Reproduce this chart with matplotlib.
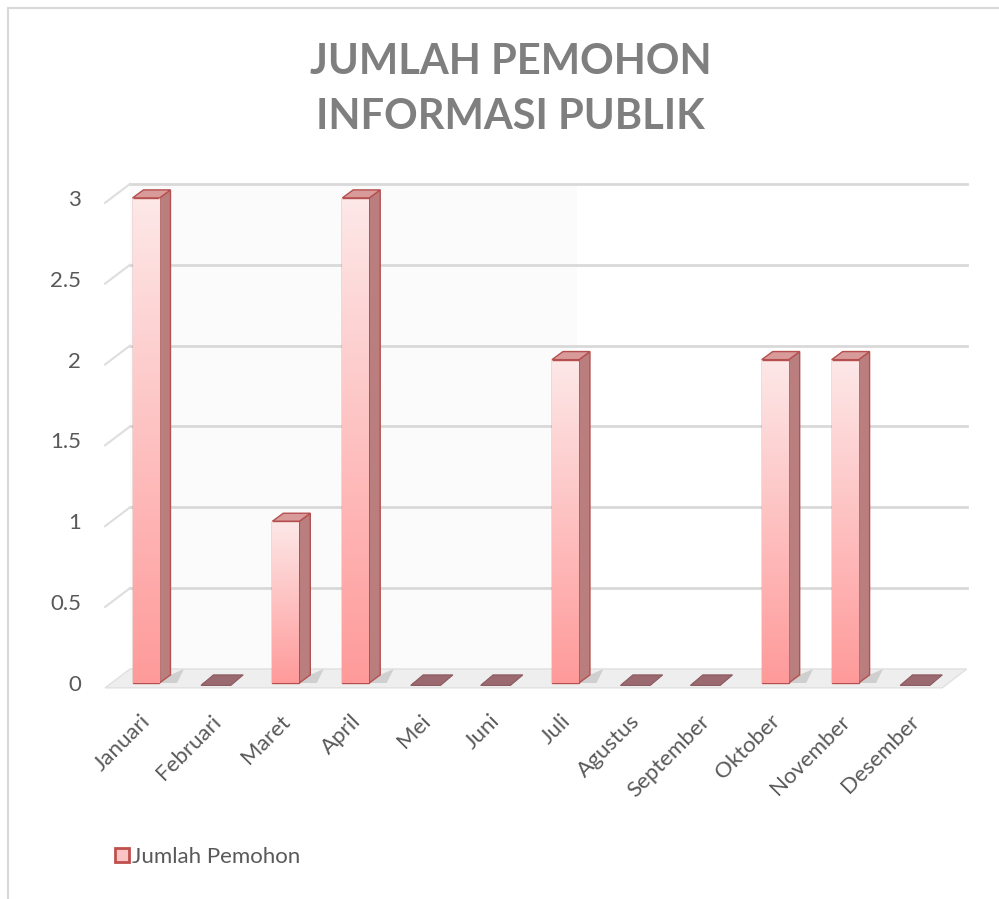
import numpy as np
import matplotlib.pyplot as plt
import matplotlib.transforms as mtransforms
from matplotlib.patches import Polygon, Patch
from matplotlib.lines import Line2D
from matplotlib.colors import LinearSegmentedColormap

bulan = ["Januari", "Februari", "Maret", "April", "Mei", "Juni", "Juli",
         "Agustus", "September", "Oktober", "November", "Desember"]
jumlah = [3, 0, 1, 3, 0, 0, 2, 0, 0, 2, 2, 0]
yticks = [0, 0.5, 1, 1.5, 2, 2.5, 3]
ytick_labels = ["0", "0.5", "1", "1.5", "2", "2.5", "3"]

plt.rcParams['font.family'] = ['Lato', 'DejaVu Sans']

fig = plt.figure(figsize=(9.99, 8.99), dpi=100)
ax = fig.add_axes([0.1001, 0.2214, 0.8759, 0.5895])
for s in ax.spines.values():
    s.set_visible(False)

# 3d look: wall depth and bar depth in data units
wx0, wx1, wx_front = -0.229, 11.74, -0.586
wdy = 0.0866
w = 0.386
dx, dy = 0.157, 0.05

# back wall shading + gridlines
ax.fill_between([wx0, 6.17], wdy, 3 + wdy, color='#fbfbfb', zorder=0, lw=0)
for v in yticks[1:]:
    ax.plot([wx0, wx1], [v + wdy] * 2, color='#d9d9d9', lw=2, zorder=1)
    ax.plot([wx_front, wx0], [v - 0.03, v + wdy], color='#dedede', lw=1.5, zorder=1)

# floor
floor = Polygon([(wx_front, -0.03), (wx1 - 0.35, -0.03), (wx1, wdy), (wx0, wdy)],
                closed=True, facecolor='#eeeeee', edgecolor='#e0e0e0', lw=1, zorder=1)
ax.add_patch(floor)

cmap = LinearSegmentedColormap.from_list('bar', ['#ff9a9a', '#fde8e8'])
grad = np.linspace(0, 1, 256).reshape(-1, 1)
edge = '#b5504f'

bars = ax.bar(range(len(jumlah)), jumlah, width=w, color='#fbb', edgecolor=edge,
              lw=1, zorder=4)
for i, (v, bar) in enumerate(zip(jumlah, bars)):
    x0 = i - w / 2
    if v > 0:
        im = ax.imshow(grad, extent=[x0, x0 + w, 0, v], origin='lower', cmap=cmap,
                       aspect='auto', zorder=4.5, interpolation='bilinear')
        im.set_clip_path(bar)
        ax.add_patch(Polygon([(x0, v), (x0 + w, v)], closed=False, fill=False,
                             edgecolor=edge, lw=1, zorder=5))
        ax.add_patch(Polygon([(x0 + w, 0), (x0 + w + dx, dy), (x0 + w + dx, v + dy),
                              (x0 + w, v)], facecolor='#bb7e7e', edgecolor=edge,
                             lw=1, zorder=4))
        ax.add_patch(Polygon([(x0, v), (x0 + dx, v + dy), (x0 + w + dx, v + dy),
                              (x0 + w, v)], facecolor='#d99a9a', edgecolor=edge,
                             lw=1, zorder=4))
        ax.add_patch(Polygon([(x0 + w, 0), (x0 + w + 0.25, 0), (x0 + w + 0.35, wdy),
                              (x0 + w + dx, dy)], facecolor='#cfcfcf', lw=0, zorder=2))
    else:
        ax.add_patch(Polygon([(x0 - 0.02, -0.015), (x0 + w + 0.02, -0.015),
                              (x0 + w + dx + 0.04, dy), (x0 + dx, dy)],
                             facecolor='#9b6a70', edgecolor='#8a5a60', lw=0.8, zorder=4))

ax.set_xlim(-0.658, 11.858)
ax.set_ylim(-0.105, 3.173)
ax.set_yticks(yticks, ytick_labels)
ax.set_xticks(range(len(bulan)), bulan, rotation=45, ha='right', rotation_mode='anchor')
ax.tick_params(axis='y', length=0, pad=13.5, labelsize=16, labelcolor='#595959')
ax.tick_params(axis='x', length=0, pad=8, labelsize=16, labelcolor='#595959')
shift = mtransforms.ScaledTranslation(-4 / 72, 0, fig.dpi_scale_trans)
for lab in ax.get_xticklabels():
    lab.set_transform(lab.get_transform() + shift)

fig.text(0.511, 1 - 62 / 899, 'JUMLAH PEMOHON', ha='center', va='center',
         fontsize=30, fontweight='bold', color='#7f7f7f')
fig.text(0.511, 1 - 117 / 899, 'INFORMASI PUBLIK', ha='center', va='center',
         fontsize=30, fontweight='bold', color='#7f7f7f')

fig.legend(handles=[Patch(facecolor='#fbc4c4', edgecolor='#c0504d', lw=2,
                          label='Jumlah Pemohon')],
           loc='center left', bbox_to_anchor=(95 / 999, 1 - 857 / 899), frameon=False,
           fontsize=16, labelcolor='#595959', handlelength=0.62, handleheight=0.62,
           handletextpad=0.15)

# chart border
fig.add_artist(Line2D([8 / 999, 8 / 999], [0, 1 - 8 / 899], transform=fig.transFigure,
                      color='#d9d9d9', lw=1.5))
fig.add_artist(Line2D([8 / 999, 1], [1 - 8 / 899] * 2, transform=fig.transFigure,
                      color='#d9d9d9', lw=1.5))

fig.savefig('out.png', dpi=100, facecolor='white')
